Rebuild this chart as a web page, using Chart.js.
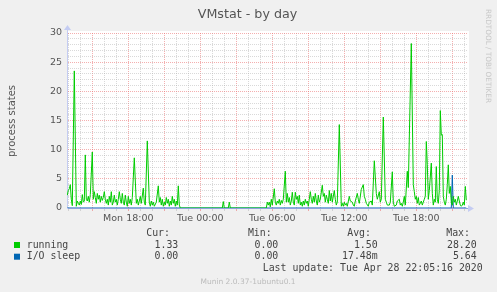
<!DOCTYPE html>
<html>
<head>
<meta charset="utf-8">
<title>VMstat - by day</title>
<script src="https://cdn.jsdelivr.net/npm/chart.js@4.4.1/dist/chart.umd.min.js"></script>
<style>
  html, body { margin: 0; padding: 0; background: #f0f0f0; }
  #wrap { position: relative; width: 497px; height: 292px; }
</style>
</head>
<body>
<div id="wrap"><canvas id="vmstat" width="497" height="292"></canvas></div>
<script>
// sample times are minutes since Mon 00:00 (munin 5 minute steps)
const runTimes = [
  775, 780, 785, 790, 795, 800, 810, 820, 825, 830, 835, 840, 845, 850, 855, 860, 865, 870, 875, 880,
  885, 890, 900, 905, 910, 915, 920, 925, 930, 935, 940, 945, 950, 955, 960, 965, 970, 975, 980, 985,
  990, 995, 1000, 1005, 1010, 1015, 1020, 1025, 1030, 1035, 1040, 1045, 1050, 1055, 1060, 1065, 1070, 1075, 1080, 1085,
  1090, 1095, 1100, 1110, 1120, 1125, 1130, 1135, 1140, 1145, 1155, 1160, 1165, 1175, 1185, 1190, 1195, 1200, 1205, 1210,
  1220, 1230, 1235, 1240, 1245, 1250, 1255, 1260, 1265, 1270, 1275, 1280, 1285, 1290, 1295, 1300, 1305, 1310, 1315, 1320,
  1325, 1330, 1335, 1340, 1550, 1555, 1560, 1580, 1585, 1590, 1770, 1775, 1780, 1785, 1790, 1795, 1800, 1810, 1815, 1820,
  1825, 1830, 1835, 1840, 1845, 1850, 1855, 1865, 1870, 1875, 1880, 1885, 1890, 1895, 1900, 1905, 1910, 1915, 1920, 1925,
  1930, 1935, 1940, 1945, 1950, 1955, 1960, 1965, 1970, 1975, 1980, 1985, 1990, 1995, 2000, 2005, 2010, 2015, 2020, 2025,
  2030, 2035, 2040, 2050, 2055, 2060, 2065, 2070, 2075, 2080, 2085, 2090, 2095, 2100, 2110, 2115, 2120, 2125, 2135, 2145,
  2150, 2155, 2160, 2165, 2170, 2175, 2185, 2190, 2200, 2205, 2210, 2215, 2225, 2230, 2235, 2245, 2255, 2260, 2265, 2270,
  2280, 2285, 2295, 2300, 2310, 2320, 2325, 2335, 2340, 2345, 2355, 2365, 2370, 2375, 2385, 2390, 2400, 2405, 2410, 2420,
  2425, 2435, 2440, 2445, 2450, 2455, 2460, 2465, 2475, 2480, 2485, 2495, 2505, 2510, 2515, 2520, 2525, 2530, 2535, 2540,
  2545, 2550, 2555, 2560, 2565, 2570, 2575, 2580, 2585, 2595, 2600, 2605, 2610, 2615, 2620, 2625, 2630, 2635, 2640, 2645,
  2650, 2655, 2660, 2665, 2670, 2675, 2680, 2685, 2690, 2695, 2700, 2705, 2710, 2715, 2720, 2725, 2730, 2735, 2740, 2745,
  2750, 2755, 2760, 2765, 2770
];
const runValues = [
  2.2, 3.0, 3.3, 4.0, 1.5, 0.4, 23.5, 0.3, 1.2, 0.8, 0.5, 1.2, 0.6, 2.3, 1.0, 1.2, 9.1, 1.5, 1.2, 2.0,
  1.0, 2.3, 9.6, 1.5, 2.8, 1.8, 0.8, 2.5, 1.5, 2.2, 1.0, 2.0, 1.3, 1.8, 2.8, 1.5, 0.8, 1.5, 0.5, 2.0,
  1.0, 2.8, 0.5, 1.0, 2.2, 1.0, 1.5, 0.5, 1.5, 2.8, 1.5, 0.8, 2.5, 1.0, 0.5, 2.2, 1.0, 0.3, 2.0, 0.8,
  1.5, 0.5, 1.8, 8.6, 0.8, 1.5, 0.5, 1.2, 2.0, 0.8, 3.4, 1.0, 0.5, 11.5, 1.0, 0.3, 1.2, 0.5, 1.0, 0.3,
  1.0, 3.8, 1.0, 1.8, 0.5, 1.5, 0.3, 1.0, 0.5, 1.8, 0.8, 1.5, 0.3, 1.2, 0.5, 2.0, 0.8, 1.5, 0.3, 1.2,
  0.5, 3.8, 0.5, 0, 0, 1.1, 0, 0, 1.0, 0, 0, 1.0, 0.5, 1.0, 0.2, 1.5, 0.5, 3.3, 1.0, 0.5,
  1.2, 0.8, 1.5, 0.5, 1.3, 0.8, 1.5, 6.3, 1.0, 2.5, 1.0, 1.8, 0.5, 1.2, 2.7, 1.0, 0.5, 2.7, 1.5, 2.0,
  0.8, 2.2, 0.5, 1.0, 0.3, 1.2, 0.5, 1.5, 0.8, 1.2, 0.3, 1.5, 2.8, 1.5, 0.8, 2.0, 1.0, 2.5, 1.2, 0.5,
  2.2, 1.0, 1.5, 3.9, 2.0, 2.5, 1.0, 2.2, 1.5, 0.8, 3.0, 1.2, 2.5, 1.0, 3.0, 1.5, 0.5, 1.0, 14.3, 0.3,
  0.8, 0.3, 1.0, 0.5, 0.8, 0.3, 2.0, 1.2, 1.0, 0.5, 0.3, 1.2, 2.5, 1.5, 0.8, 3.2, 4.0, 2.0, 1.5, 0.8,
  0.3, 1.0, 1.2, 0.5, 8.1, 2.5, 1.5, 2.8, 1.0, 1.5, 15.6, 1.5, 1.0, 0.5, 0.5, 1.0, 6.2, 1.0, 0.3, 0.5,
  1.2, 1.5, 0.5, 0.8, 0.3, 1.0, 2.0, 0.5, 6.3, 3.5, 12.0, 28.2, 4.0, 2.8, 1.5, 2.0, 0.8, 1.8, 0.5, 0.8,
  1.2, 0.5, 1.0, 1.5, 2.0, 11.4, 7.5, 1.5, 3.0, 7.7, 2.5, 0.5, 1.5, 1.0, 7.1, 1.5, 0.8, 3.0, 16.7, 12.5,
  12.6, 2.0, 1.0, 0.5, 1.5, 4.0, 7.4, 2.5, 3.7, 1.0, 0.5, 2.0, 1.0, 1.5, 0.5, 1.2, 2.0, 1.2, 0.5, 0.3,
  0.5, 1.0, 0.5, 3.7, 1.33
];
const ioTimes = [775, 2695, 2700, 2705, 2770];
const ioValues = [0, 0, 5.64, 0, 0];

const xTickMinutes = [1080, 1440, 1800, 2160, 2520];
const xTickLabels = ['Mon 18:00', 'Tue 00:00', 'Tue 06:00', 'Tue 12:00', 'Tue 18:00'];
const yTickLabels = [0, 5, 10, 15, 20, 25, 30];

const seriesNames = ['running', 'I/O sleep'];
const seriesColors = ['#00cc00', '#0066b3'];
const curValues = ['1.33', '0.00'];
const minValues = ['0.00', '0.00'];
const avgValues = ['1.50', '17.48m'];
const maxValues = ['28.20', '5.64'];

const MAJOR = 'rgba(235, 110, 110, 0.55)';
const MINOR = 'rgba(170, 170, 170, 0.45)';
const SANS = '"DejaVu Sans", sans-serif';
const MONO = '"DejaVu Sans Mono", monospace';

const munin = {
  id: 'munin',
  beforeDraw(chart) {
    const { ctx, chartArea: a } = chart;
    ctx.save();
    ctx.fillStyle = '#f0f0f0';
    ctx.fillRect(0, 0, chart.width, chart.height);
    ctx.fillStyle = '#ffffff';
    ctx.fillRect(a.left, a.top - 2, a.right - a.left + 2, a.bottom - a.top + 2);
    ctx.restore();
  },
  afterDraw(chart) {
    const { ctx, chartArea: a } = chart;
    ctx.save();
    // axis arrows
    ctx.fillStyle = '#c4ccf2';
    ctx.strokeStyle = '#c4ccf2';
    ctx.beginPath();
    ctx.moveTo(a.left + 0.5, a.top);
    ctx.lineTo(a.left + 0.5, a.top - 4);
    ctx.stroke();
    ctx.beginPath();
    ctx.moveTo(a.left - 3, a.top - 3);
    ctx.lineTo(a.left + 4, a.top - 3);
    ctx.lineTo(a.left + 0.5, a.top - 8);
    ctx.closePath();
    ctx.fill();
    ctx.beginPath();
    ctx.moveTo(a.right + 1, a.bottom - 3);
    ctx.lineTo(a.right + 1, a.bottom + 4);
    ctx.lineTo(a.right + 7, a.bottom + 0.5);
    ctx.closePath();
    ctx.fill();

    // title
    ctx.fillStyle = '#555';
    ctx.font = '12.7px ' + SANS;
    ctx.textAlign = 'center';
    ctx.textBaseline = 'alphabetic';
    ctx.fillText('VMstat - by day', 247.5, 17.6);

    // y axis title
    ctx.save();
    ctx.translate(12, 121);
    ctx.rotate(-Math.PI / 2);
    ctx.font = '10px ' + SANS;
    ctx.textBaseline = 'middle';
    ctx.fillText('process states', 0, 0);
    ctx.restore();

    // rrdtool credit
    ctx.save();
    ctx.translate(488, 56);
    ctx.rotate(Math.PI / 2);
    ctx.fillStyle = '#c8c8c8';
    ctx.font = '7.3px ' + SANS;
    ctx.textBaseline = 'middle';
    ctx.fillText('RRDTOOL / TOBI OETIKER', 0, 0);
    ctx.restore();

    // legend table
    ctx.font = '9.9px ' + MONO;
    ctx.fillStyle = '#444';
    ctx.textBaseline = 'middle';
    ctx.textAlign = 'right';
    ctx.fillText('Cur:', 170, 233.3);
    ctx.fillText('Min:', 271.7, 233.3);
    ctx.fillText('Avg:', 371, 233.3);
    ctx.fillText('Max:', 470, 233.3);
    const rows = [245, 256.7];
    seriesNames.forEach((name, i) => {
      const y = rows[i];
      ctx.fillStyle = seriesColors[i];
      ctx.fillRect(14, y - 3, 6, 6);
      ctx.fillStyle = '#444';
      ctx.textAlign = 'left';
      ctx.fillText(name, 26.7, y);
      ctx.textAlign = 'right';
      ctx.fillText(curValues[i], 178.3, y);
      ctx.fillText(minValues[i], 278.3, y);
      ctx.fillText(avgValues[i], 377.7, y);
      ctx.fillText(maxValues[i], 476.7, y);
    });
    ctx.fillText('Last update: Tue Apr 28 22:05:16 2020', 482.7, 268.3);

    ctx.textAlign = 'center';
    ctx.fillStyle = '#bbb';
    ctx.font = '7.5px ' + SANS;
    ctx.fillText('Munin 2.0.37-1ubuntu0.1', 248, 281.7);
    ctx.restore();
  }
};

const ctx = document.getElementById('vmstat').getContext('2d');
new Chart(ctx, {
  type: 'line',
  data: {
    datasets: [
      {
        label: seriesNames[0],
        data: runTimes.map((t, i) => ({ x: t, y: runValues[i] })),
        borderColor: seriesColors[0],
        borderWidth: 1,
        pointRadius: 0,
        tension: 0,
        fill: false
      },
      {
        label: seriesNames[1],
        data: ioTimes.map((t, i) => ({ x: t, y: ioValues[i] })),
        borderColor: seriesColors[1],
        borderWidth: 1,
        pointRadius: 0,
        tension: 0,
        fill: false
      }
    ]
  },
  options: {
    responsive: false,
    devicePixelRatio: 1,
    animation: false,
    layout: { padding: { left: 0, top: 33, right: 30, bottom: 0 } },
    plugins: {
      legend: { display: false },
      tooltip: { enabled: false },
      title: { display: false }
    },
    scales: {
      x: {
        type: 'linear',
        min: 773.5,
        max: 2773.5,
        afterBuildTicks: (scale) => {
          const ticks = [];
          for (let m = 780; m <= 2760; m += 60) ticks.push({ value: m });
          scale.ticks = ticks;
        },
        afterFit: (scale) => { scale.height = 84; },
        grid: {
          color: (c) => (c.tick && c.tick.value % 180 === 0 ? MAJOR : MINOR),
          tickLength: 3,
          drawTicks: true
        },
        border: { color: '#8ea2dc', width: 1, dash: [1, 1] },
        ticks: {
          autoSkip: false,
          maxRotation: 0,
          padding: 2,
          color: '#555',
          font: { family: SANS, size: 9.5 },
          callback: (v) => {
            const i = xTickMinutes.indexOf(v);
            return i >= 0 ? xTickLabels[i] : '';
          }
        }
      },
      y: {
        min: 0,
        max: 30,
        afterBuildTicks: (scale) => {
          const ticks = [];
          for (let v = 0; v <= 30; v += 1) ticks.push({ value: v });
          scale.ticks = ticks;
        },
        afterFit: (scale) => { scale.width = 67; },
        grid: {
          color: (c) => (c.tick && c.tick.value % 5 === 0 ? MAJOR : MINOR),
          tickLength: 2,
          drawTicks: false
        },
        border: { color: '#c4ccf2', width: 1, dash: [1, 1] },
        ticks: {
          autoSkip: false,
          padding: 5,
          color: '#555',
          font: { family: SANS, size: 9.5 },
          callback: (v) => (yTickLabels.includes(v) ? String(v) : '')
        }
      }
    }
  },
  plugins: [munin]
});
</script>
</body>
</html>
